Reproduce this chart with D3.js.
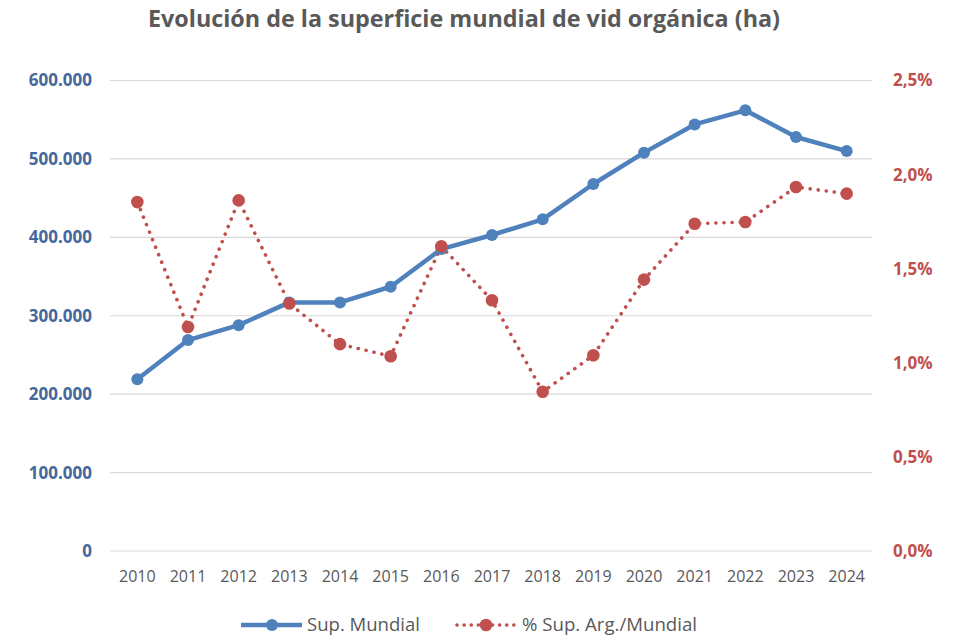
<!DOCTYPE html>
<html><head><meta charset="utf-8">
<script src="https://cdn.jsdelivr.net/npm/d3@7"></script>
<style>body{margin:0;background:#fff}svg{display:block}</style>
</head><body>
<svg id="c" width="953" height="637"></svg>
<script>
const years = ["2010","2011","2012","2013","2014","2015","2016","2017","2018","2019","2020","2021","2022","2023","2024"];
const supMundial = [219000,269000,288000,317000,317000,337000,385000,403000,423000,468000,508000,544000,562000,528000,510000];
const pctArg = [1.854,1.19,1.863,1.315,1.099,1.035,1.619,1.332,0.846,1.04,1.442,1.739,1.748,1.934,1.899];
const leftTicks = [0,100000,200000,300000,400000,500000,600000];
const rightTicks = [0,0.5,1.0,1.5,2.0,2.5];
const title = "Evolución de la superficie mundial de vid orgánica (ha)";
const seriesNames = ["Sup. Mundial","% Sup. Arg./Mundial"];

const font = "'Open Sans',sans-serif";
const blue = "#4f81bd", red = "#c0504d";
const svg = d3.select("#c");
const L = 112, R = 872, T = 80.5, B = 551;

const x = d3.scaleBand().domain(years).range([L, R]);
const xc = d => x(d) + x.bandwidth()/2;
const yL = d3.scaleLinear().domain([0,600000]).range([B,T]);
const yR = d3.scaleLinear().domain([0,2.5]).range([B,T]);

// grid
svg.append("g").selectAll("line").data(leftTicks).join("line")
  .attr("x1",L-2).attr("x2",R).attr("y1",d=>yL(d)).attr("y2",d=>yL(d))
  .attr("stroke","#d9d9d9").attr("stroke-width",1.2);

// left axis
const fmtL = d => d3.format(",")(d).replace(/,/g,".");
const gl = svg.append("g").attr("transform",`translate(${L-2},0)`)
  .call(d3.axisLeft(yL).tickValues(leftTicks).tickFormat(fmtL).tickSize(0).tickPadding(18));
gl.select(".domain").remove();
gl.selectAll("text").attr("fill","#44689c").attr("font-family",font).attr("font-size",17).attr("font-weight","bold");

// right axis
const fmtR = d => d3.format(".1f")(d).replace(".",",")+"%";
const gr = svg.append("g").attr("transform",`translate(${R},0)`)
  .call(d3.axisRight(yR).tickValues(rightTicks).tickFormat(fmtR).tickSize(0).tickPadding(21));
gr.select(".domain").remove();
gr.selectAll("text").attr("fill",red).attr("font-family",font).attr("font-size",17).attr("font-weight","bold");

// x axis
const gx = svg.append("g").attr("transform",`translate(0,${B})`)
  .call(d3.axisBottom(x).tickSize(0).tickPadding(20));
gx.select(".domain").remove();
gx.selectAll("text").attr("fill","#595959").attr("font-family",font).attr("font-size",16);

// red dotted line
const lineR = d3.line().x((d,i)=>xc(years[i])).y(d=>yR(d));
svg.append("path").datum(pctArg).attr("d",lineR).attr("fill","none")
  .attr("stroke",red).attr("stroke-width",3.6).attr("stroke-linecap","round").attr("stroke-dasharray","0.1 8");

// blue line
const lineL = d3.line().x((d,i)=>xc(years[i])).y(d=>yL(d));
svg.append("path").datum(supMundial).attr("d",lineL).attr("fill","none")
  .attr("stroke",blue).attr("stroke-width",4.5).attr("stroke-linejoin","round");
svg.append("g").selectAll("circle").data(supMundial).join("circle")
  .attr("cx",(d,i)=>xc(years[i])).attr("cy",d=>yL(d)).attr("r",6).attr("fill",blue);
svg.append("g").selectAll("circle").data(pctArg).join("circle")
  .attr("cx",(d,i)=>xc(years[i])).attr("cy",d=>yR(d)).attr("r",6.3).attr("fill",red);

// title
svg.append("text").attr("x",464).attr("y",27).attr("text-anchor","middle")
  .attr("font-family",font).attr("font-size",23).attr("font-weight","bold").attr("fill","#595959")
  .attr("textLength",632).attr("lengthAdjust","spacingAndGlyphs").text(title);

// legend
const ly = 625;
const lg = svg.append("g");
lg.append("line").attr("x1",241).attr("x2",302).attr("y1",ly).attr("y2",ly).attr("stroke",blue).attr("stroke-width",4.5);
lg.append("circle").attr("cx",272).attr("cy",ly).attr("r",6).attr("fill",blue);
lg.append("text").attr("x",307).attr("y",ly+6).attr("font-family",font).attr("font-size",17.5).attr("fill","#595959")
  .attr("textLength",113).attr("lengthAdjust","spacingAndGlyphs").text(seriesNames[0]);
lg.append("line").attr("x1",457).attr("x2",515).attr("y1",ly).attr("y2",ly).attr("stroke",red).attr("stroke-width",3.6)
  .attr("stroke-linecap","round").attr("stroke-dasharray","0.1 7");
lg.append("circle").attr("cx",486).attr("cy",ly).attr("r",6.3).attr("fill",red);
lg.append("text").attr("x",522).attr("y",ly+6).attr("font-family",font).attr("font-size",17.5).attr("fill","#595959")
  .attr("textLength",175).attr("lengthAdjust","spacingAndGlyphs").text(seriesNames[1]);
</script>
</body></html>
